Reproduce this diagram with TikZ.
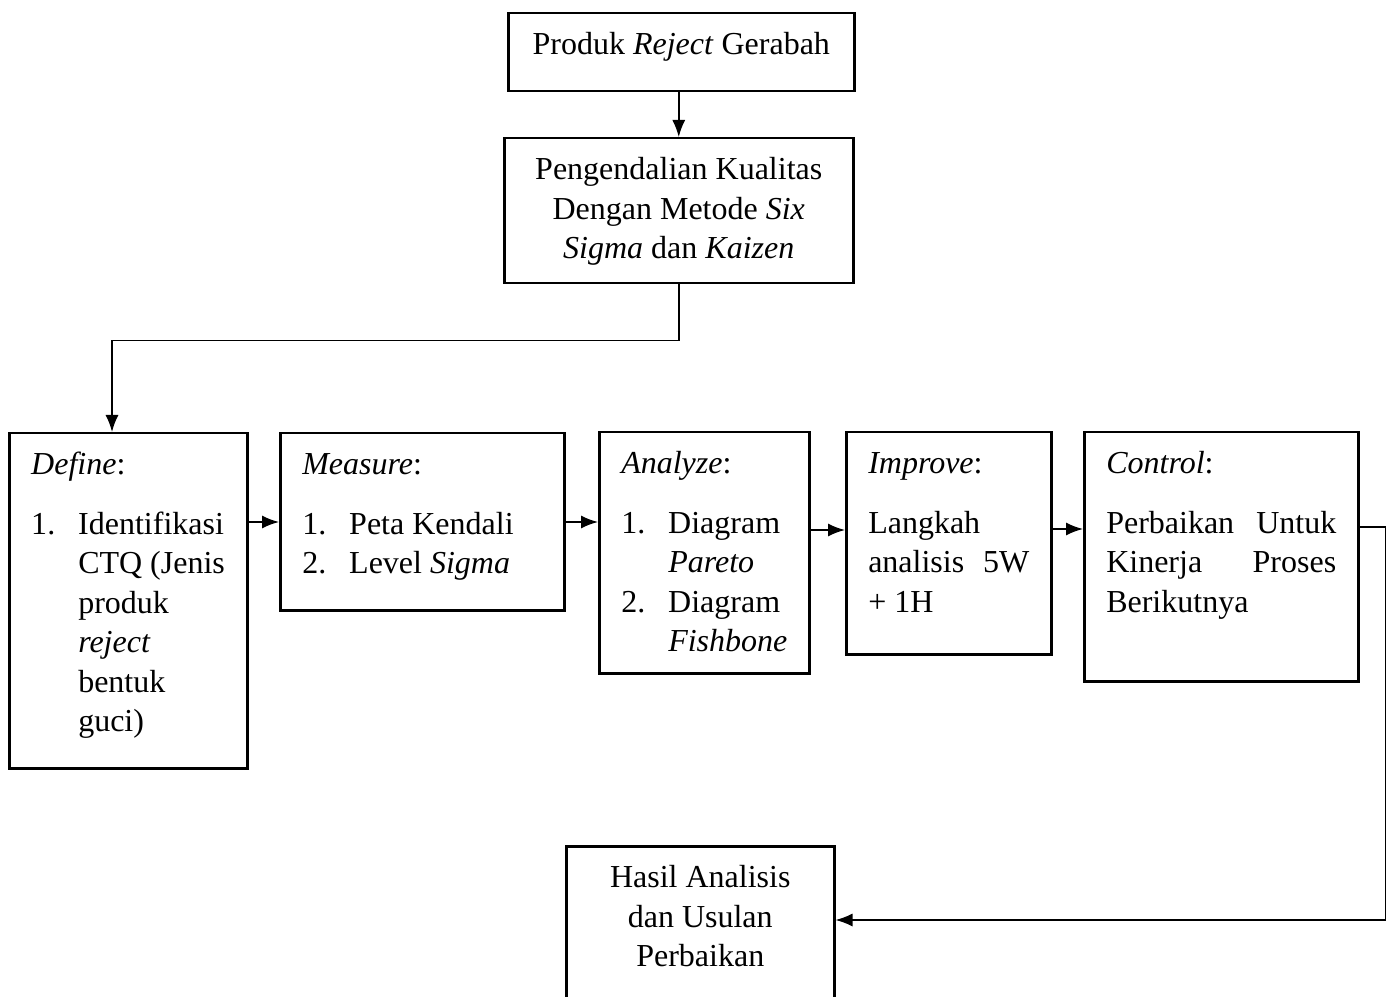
\documentclass[tikz,border=0pt]{standalone}
\usepackage{fontspec}
\setmainfont{Liberation Serif}
\usetikzlibrary{positioning,calc,arrows.meta}

\newcommand{\isikotak}[3]{\parbox[c][#2][t]{#1}{\strut #3}}
\newcommand{\nomor}[1]{\makebox[18.8pt][l]{#1}}
\newcommand{\lanjut}{\hspace*{18.8pt}}

\tikzset{
  blok/.style={draw, line width=1pt, inner xsep=8.8pt, inner ysep=5.5pt, anchor=north west,
    font=\fontsize{12.8}{15.8}\selectfont},
  panah/.style={-{Latex[length=6.8pt,width=5.2pt]}, line width=0.6pt}
}

\begin{document}
\begin{tikzpicture}[x=0.4pt, y=-0.4pt]
    \useasboundingbox (0,0) rectangle (1392,997);

    \node [blok] (atas) at (507,12) {\isikotak{120.8pt}{20.2pt}{\centering Produk \textit{Reject} Gerabah}};
    \node [blok] (metode) at (503,137) {\isikotak{122pt}{47pt}{\centering Pengendalian Kualitas\\Dengan Metode \textit{Six}\\\textit{Sigma} dan \textit{Kaizen}}};

    \node [blok] (define) at (8,432) {\isikotak{77.6pt}{123pt}{\textit{Define}:\\[8pt]
        \nomor{1.}Identifikasi\\\lanjut CTQ (Jenis\\\lanjut produk\\\lanjut\textit{reject}\\\lanjut bentuk\\\lanjut guci)}};
    \node [blok] (measure) at (279,432) {\isikotak{96pt}{59.8pt}{\textit{Measure}:\\[8pt]
        \nomor{1.}Peta Kendali\\\nomor{2.}Level \textit{Sigma}}};
    \node [blok] (analyze) at (598,431) {\isikotak{66.4pt}{85.4pt}{\textit{Analyze}:\\[8pt]
        \nomor{1.}Diagram\\\lanjut\textit{Pareto}\\\nomor{2.}Diagram\\\lanjut\mbox{\textit{Fishbone}}}};
    \node [blok] (improve) at (845,431) {\isikotak{64.4pt}{77.8pt}{\textit{Improve}:\\[8pt]
        Langkah\\analisis\hfill 5W\\+ 1H}};
    \node [blok] (kontrol) at (1083,431) {\isikotak{92pt}{88.6pt}{\textit{Control}:\\[8pt]
        Perbaikan\hfill Untuk\\Kinerja\hfill Proses\\Berikutnya}};

    \node [blok] (hasil) at (565,845) {\isikotak{89.6pt}{51pt}{\centering Hasil Analisis\\dan Usulan\\Perbaikan}};

    \draw [panah] (metode.north |- atas.south) -- (metode.north);
    \draw [panah] (metode.south) -- ++(0,56) -| ([xshift=41.6pt]define.north west);

    \draw [panah] ([yshift=-36pt]define.north east) -- ([yshift=-36pt]define.north east -| measure.west);
    \draw [panah] ([yshift=-36pt]measure.north east) -- ([yshift=-36pt]measure.north east -| analyze.west);
    \draw [panah] ([yshift=-39.6pt]analyze.north east) -- ([yshift=-39.6pt]analyze.north east -| improve.west);
    \draw [panah] ([yshift=-39.2pt]improve.north east) -- ([yshift=-39.2pt]improve.north east -| kontrol.west);

    \draw [panah] ([yshift=-38.4pt]kontrol.north east) -- ++(26,0) |- ([yshift=-30pt]hasil.north east);
\end{tikzpicture}
\end{document}
